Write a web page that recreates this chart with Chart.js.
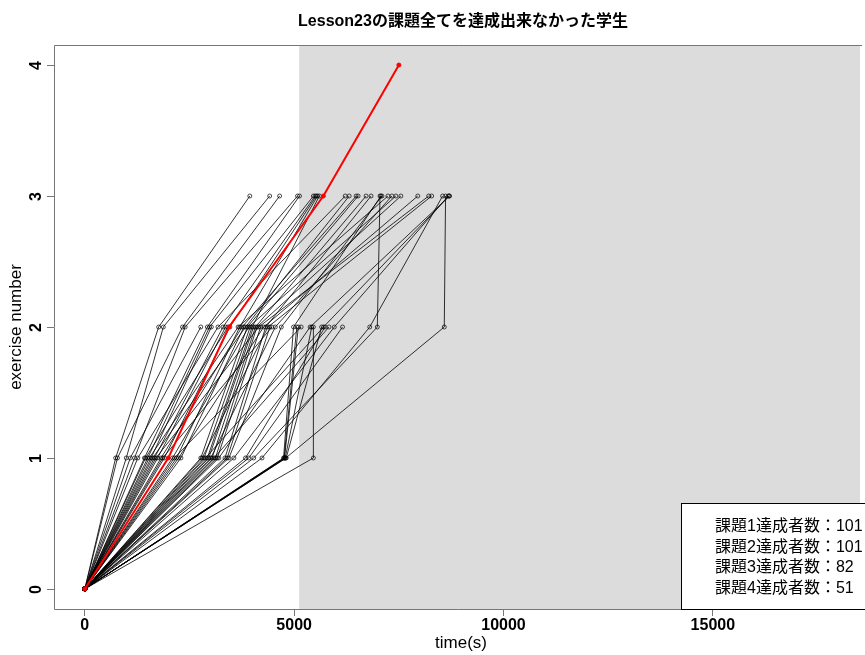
<!DOCTYPE html>
<html>
<head>
<meta charset="utf-8">
<script src="https://cdn.jsdelivr.net/npm/chart.js@4.4.1/dist/chart.umd.min.js"></script>
<style>
  html, body { margin: 0; padding: 0; background: #fff; }
  canvas { display: block; }
</style>
</head>
<body>
<canvas id="chart" width="865" height="655"></canvas>
<script>
// exercise levels on the y axis
const exerciseLevels = [0, 1, 2, 3, 4];
const xTicks = [0, 5000, 10000, 15000];
const yTicks = [0, 1, 2, 3, 4];

// time (s) at which each student finished exercise 1, 2 and 3 (null = not reached)
const time1 = [736, 780, 990, 1085, 1187, 1265, 1424, 1450, 1502, 1540,
  1583, 1620, 1662, 1700, 1740, 1821, 1860, 1899, 2096, 2140,
  2191, 2240, 2295, 2770, 2800, 2848, 2880, 2927, 2960, 3007,
  3040, 3086, 3120, 3164, 3200, 3347, 3400, 3442, 3560, 3838,
  3916, 4035, 4232, 4747, 4760, 4770, 4787, 4800, 4810, 5459];
const time2 = [1764, 2333, 1875, 2770, 2397, 3181, 2927, 3420, 2980, 3662,
  3022, 3838, 3300, 4154, 3363, 3757, 4469, 3465, 3916, 5167,
  3700, 4272, 3800, 3880, 4375, 3950, 5700, 3995, 4030, 4550,
  4075, 5832, 4110, 4200, 5381, 4320, 4420, 4693, 5958, 5737,
  6155, 6986, 6805, 4985, 5063, 5100, 5420, 8585, 5656, 5459];
const time3 = [3940, 4652, 4415, null, 5080, 6219, 5127, null, 5459, 7239,
  null, 6314, 5500, 8213, null, 6480, null, 5530, 7429, null,
  5560, 7952, null, 6527, 8284, null, 8700, 5602, null, 7334,
  6717, null, 7548, null, 8711, 6836, null, 7097, 8680, null,
  null, 7050, 8545, 7070, null, null, null, 8616, null, null];

// the one highlighted student (red)
const highlightTimes = [0, 1994, 3442, 5697, 7501];

// legend
const achievedCounts = [101, 101, 82, 51];

const shadeFrom = 5120;
const xMin = -736, xMax = 18514;
const yMin = -0.153, yMax = 4.153;

const latinFont = "'Liberation Sans', Arial, 'Noto Sans CJK JP', sans-serif";

const datasets = [];
datasets.push({
  data: highlightTimes.map((t, k) => ({ x: t, y: exerciseLevels[k] })),
  showLine: true,
  borderColor: '#ff0000',
  borderWidth: 2,
  pointRadius: 2,
  pointBackgroundColor: '#ff0000',
  pointBorderColor: '#ff0000',
  pointBorderWidth: 1
});
for (let i = 0; i < time1.length; i++) {
  const pts = [{ x: 0, y: 0 }, { x: time1[i], y: 1 }, { x: time2[i], y: 2 }];
  if (time3[i] !== null) pts.push({ x: time3[i], y: 3 });
  datasets.push({
    data: pts,
    showLine: true,
    borderColor: '#000',
    borderWidth: 0.8,
    pointRadius: 2,
    pointBackgroundColor: 'rgba(0,0,0,0)',
    pointBorderColor: '#000',
    pointBorderWidth: 0.7
  });
}

const decorations = {
  id: 'decorations',
  beforeDatasetsDraw(chart) {
    const { ctx, chartArea: a, scales: { x } } = chart;
    const gx = x.getPixelForValue(shadeFrom);
    ctx.save();
    ctx.fillStyle = '#dcdcdc';
    ctx.fillRect(gx, a.top, a.right - gx, a.bottom - a.top);
    ctx.restore();
  },
  afterDraw(chart) {
    const { ctx, chartArea: a, scales: { y } } = chart;
    ctx.save();

    // plot box
    ctx.strokeStyle = '#777';
    ctx.lineWidth = 1;
    ctx.beginPath();
    ctx.moveTo(a.right + 2, a.top + 0.5);
    ctx.lineTo(a.left + 0.5, a.top + 0.5);
    ctx.lineTo(a.left + 0.5, a.bottom + 0.5);
    ctx.lineTo(a.right + 2, a.bottom + 0.5);
    ctx.stroke();

    // y ticks, labels rotated like R
    ctx.fillStyle = '#000';
    ctx.font = 'bold 16px ' + latinFont;
    ctx.textAlign = 'center';
    ctx.textBaseline = 'middle';
    yTicks.forEach(v => {
      const py = Math.round(y.getPixelForValue(v)) + 0.5;
      ctx.beginPath();
      ctx.moveTo(a.left, py);
      ctx.lineTo(a.left - 7, py);
      ctx.stroke();
      ctx.save();
      ctx.translate(37, py);
      ctx.rotate(-Math.PI / 2);
      ctx.fillText(String(v), 0, 0);
      ctx.restore();
    });

    // title
    ctx.font = 'bold 16px ' + latinFont;
    ctx.fillText('Lesson23の課題全てを達成出来なかった学生', 463, 22);

    // axis titles
    ctx.font = '17px ' + latinFont;
    ctx.fillText('time(s)', 461, 643);
    ctx.save();
    ctx.translate(16, (a.top + a.bottom) / 2);
    ctx.rotate(-Math.PI / 2);
    ctx.fillText('exercise number', 0, 0);
    ctx.restore();

    // legend box
    ctx.fillStyle = '#fff';
    ctx.fillRect(681.5, 503.5, 200, a.bottom - 503);
    ctx.strokeStyle = '#000';
    ctx.strokeRect(681.5, 503.5, 200, a.bottom - 503);
    ctx.fillStyle = '#000';
    ctx.font = '16px ' + latinFont;
    ctx.textAlign = 'left';
    achievedCounts.forEach((n, k) => {
      ctx.fillText('課題' + (k + 1) + '達成者数：' + n, 715, 527 + k * 20.5);
    });
    ctx.restore();
  }
};

new Chart(document.getElementById('chart'), {
  type: 'scatter',
  data: { datasets },
  options: {
    responsive: false,
    animation: false,
    devicePixelRatio: 1,
    layout: { padding: { top: 45, left: 0, right: 0, bottom: 0 } },
    plugins: {
      legend: { display: false },
      title: { display: false },
      tooltip: { enabled: false }
    },
    scales: {
      x: {
        type: 'linear',
        min: xMin,
        max: xMax,
        afterBuildTicks: s => { s.ticks = xTicks.map(v => ({ value: v })); },
        afterFit: s => { s.height = 46; },
        grid: { drawOnChartArea: false, drawTicks: true, tickLength: 7, color: '#777' },
        border: { display: false },
        ticks: {
          color: '#000',
          padding: 0,
          maxRotation: 0,
          font: { family: latinFont, size: 16, weight: 'bold' },
          callback: v => String(v)
        }
      },
      y: {
        type: 'linear',
        min: yMin,
        max: yMax,
        afterBuildTicks: s => { s.ticks = yTicks.map(v => ({ value: v })); },
        afterFit: s => { s.width = 54; },
        grid: { display: false },
        border: { display: false },
        ticks: { display: false }
      }
    }
  },
  plugins: [decorations]
});
</script>
</body>
</html>
